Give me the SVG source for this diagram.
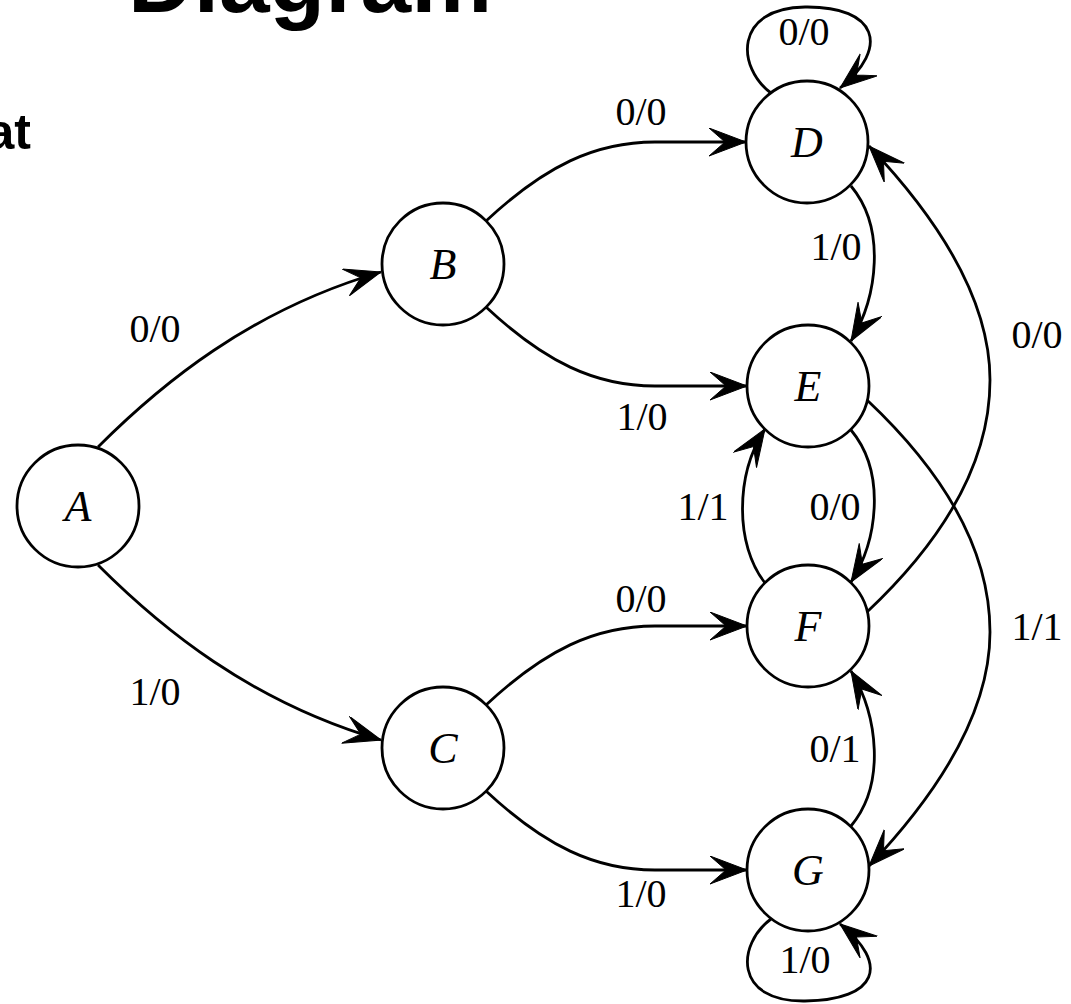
<svg xmlns="http://www.w3.org/2000/svg" width="1071" height="1004" viewBox="0 0 1071 1004">
  <style>
    .node circle { fill: #fff; stroke: #000; stroke-width: 2.8; }
    .node text { font-family: "Liberation Serif", "Times New Roman", serif; font-style: italic; font-size: 44px; text-anchor: middle; fill: #000; }
    .edge { fill: none; stroke: #000; stroke-width: 2.8; marker-end: url(#arrow); }
    .lbl { font-family: "Liberation Serif", "Times New Roman", serif; font-size: 40px; text-anchor: middle; fill: #000; }
    .title { font-family: "Liberation Sans", Arial, sans-serif; font-weight: bold; fill: #000; }
  </style>
  <defs>
    <marker id="arrow" markerUnits="userSpaceOnUse" orient="auto" markerWidth="40" markerHeight="30" viewBox="0 0 40 30" refX="37" refY="14">
      <path d="M37,14 L0,0 L16,14 L0,28 Z" fill="#000" stroke="#000" stroke-width="1" stroke-linejoin="miter"/>
    </marker>
  </defs>

  <rect width="1071" height="1004" fill="#fff"/>

  <!-- headings, clipped by the page edge -->
  <text class="title" x="128" y="12" font-size="91">Diagram</text>
  <text class="title" x="31" y="149" font-size="50" text-anchor="end">at</text>

  <!-- transitions -->
  <g id="connectors">
    <path class="edge" d="M98,447 C160,385 250,310 381,272"/>
    <path class="edge" d="M98,565 C160,627 250,702 381,740"/>
    <path class="edge" d="M486,221 C545,166 595,142 655,142 L746,142"/>
    <path class="edge" d="M486,307 C545,362 595,386 655,386 L747,386"/>
    <path class="edge" d="M486,705 C545,650 595,626 655,626 L747,626"/>
    <path class="edge" d="M486,791 C545,846 595,870 655,870 L747,870"/>
    <path class="edge" d="M771,93 C737,68 733,8 805,7 C878,6 890,48 840,88"/>
    <path class="edge" d="M771,919 C737,944 733,1002 805,1001 C878,1000 890,964 840,924"/>
    <path class="edge" d="M851,186 C886,228 878,296 851,341"/>
    <path class="edge" d="M851,430 C886,472 878,540 851,582"/>
    <path class="edge" d="M765,583 C735,545 735,475 765,429"/>
    <path class="edge" d="M851,826 C886,784 878,716 851,671"/>
    <path class="edge" d="M867,612 C935,548 990,470 990,380 C990,290 925,205 869,146"/>
    <path class="edge" d="M867,400 C935,464 990,542 990,632 C990,722 925,807 869,866"/>

    <text class="lbl" x="155" y="342">0/0</text>
    <text class="lbl" x="155" y="705">1/0</text>
    <text class="lbl" x="641" y="125">0/0</text>
    <text class="lbl" x="642" y="430">1/0</text>
    <text class="lbl" x="641" y="612">0/0</text>
    <text class="lbl" x="641" y="907">1/0</text>
    <text class="lbl" x="804" y="45">0/0</text>
    <text class="lbl" x="805" y="973">1/0</text>
    <text class="lbl" x="836" y="260">1/0</text>
    <text class="lbl" x="835" y="520">0/0</text>
    <text class="lbl" x="703" y="520">1/1</text>
    <text class="lbl" x="835" y="762">0/1</text>
    <text class="lbl" x="1037" y="348">0/0</text>
    <text class="lbl" x="1037" y="640">1/1</text>
  </g>

  <!-- states -->
  <g id="node-A" class="node"><circle cx="78" cy="506" r="61"/><text x="78" y="521">A</text></g>
  <g id="node-B" class="node"><circle cx="443" cy="264" r="61"/><text x="443" y="279">B</text></g>
  <g id="node-C" class="node"><circle cx="443" cy="748" r="61"/><text x="443" y="763">C</text></g>
  <g id="node-D" class="node"><circle cx="807" cy="142" r="61"/><text x="807" y="157">D</text></g>
  <g id="node-E" class="node"><circle cx="808" cy="386" r="61"/><text x="808" y="401">E</text></g>
  <g id="node-F" class="node"><circle cx="808" cy="626" r="61"/><text x="808" y="641">F</text></g>
  <g id="node-G" class="node"><circle cx="808" cy="870" r="61"/><text x="808" y="885">G</text></g>
</svg>
